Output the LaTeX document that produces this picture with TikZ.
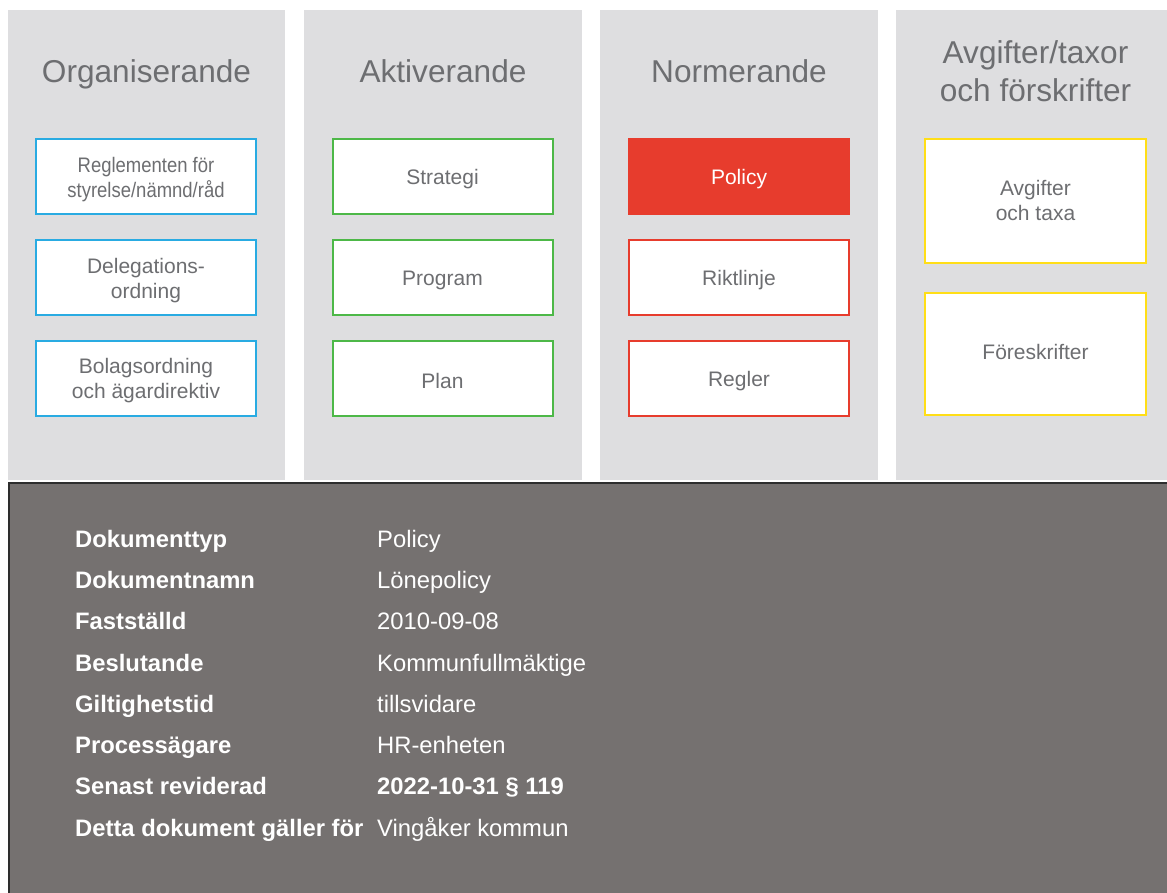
\documentclass[tikz,border=0pt]{standalone}
\usepackage{fontspec}
\setmainfont{Liberation Sans}
\newfontfamily\narrowfont[FakeStretch=0.88]{Liberation Sans}
\definecolor{colgray}{RGB}{222,222,224}
\definecolor{txtgray}{RGB}{109,110,113}
\definecolor{bcyan}{RGB}{41,171,226}
\definecolor{bgreen}{RGB}{77,184,72}
\definecolor{bred}{RGB}{231,60,45}
\definecolor{byellow}{RGB}{255,222,23}
\definecolor{darkfill}{RGB}{117,113,112}
\definecolor{darkline}{RGB}{45,45,45}
\tikzset{
  colbg/.style={fill=colgray, draw=none},
  coltitle/.style={text=txtgray, font=\fontsize{31.6}{38}\selectfont, anchor=base, inner sep=0pt},
  docbox/.style={draw=#1, line width=2pt, fill=white, inner sep=0pt, minimum width=220pt, minimum height=75pt},
  boxtext/.style={text=txtgray, align=center, font=\fontsize{21}{25}\selectfont, inner sep=0pt, yshift=-3pt},
  tabkey/.style={anchor=base west, text=white, inner sep=0pt, font=\bfseries\fontsize{23.8}{28}\selectfont},
  tabval/.style={anchor=base west, text=white, inner sep=0pt, font=\fontsize{23.8}{28}\selectfont},
}
\begin{document}
\begin{tikzpicture}[x=1pt,y=-1pt]
\useasboundingbox (0,0) rectangle (1167,893);
\fill[white] (0,0) rectangle (1167,893);
% columns
\path[colbg] (8,10) rectangle (285,480);
\path[colbg] (304,10) rectangle (582,480);
\path[colbg] (600,10) rectangle (878,480);
\path[colbg] (896,10) rectangle (1167,480);
% titles
\node[coltitle] (t1) at (146.5,83) {Organiserande};
\node[coltitle] (t2) at (443,83) {Aktiverande};
\node[coltitle] (t3) at (739,83) {Normerande};
\node[coltitle] (t4a) at (1035.5,64) {Avgifter/taxor};
\node[coltitle] (t4b) at (1035.5,102) {och förskrifter};
% column 1
\node[docbox=bcyan] (o1) at (146,176.5) {};
\node[boxtext] (o1t) at (o1.center) {\narrowfont Reglementen för\\\narrowfont styrelse/nämnd/råd};
\node[docbox=bcyan] (o2) at (146,277.5) {};
\node[boxtext] (o2t) at (o2.center) {Delegations-\\ordning};
\node[docbox=bcyan] (o3) at (146,378) {};
\node[boxtext] (o3t) at (o3.center) {Bolagsordning\\och ägardirektiv};
% column 2
\node[docbox=bgreen] (a1) at (442.5,176.5) {};
\node[boxtext] (a1t) at (a1.center) {Strategi};
\node[docbox=bgreen] (a2) at (442.5,277.5) {};
\node[boxtext] (a2t) at (a2.center) {Program};
\node[docbox=bgreen] (a3) at (442.5,378) {};
\node[boxtext] (a3t) at (a3.center) {Plan};
% column 3
\node[docbox=bred, fill=bred] (n1) at (739,176.5) {};
\node[boxtext, text=white] (n1t) at (n1.center) {Policy};
\node[docbox=bred] (n2) at (739,277.5) {};
\node[boxtext] (n2t) at (n2.center) {Riktlinje};
\node[docbox=bred] (n3) at (739,378) {};
\node[boxtext] (n3t) at (n3.center) {Regler};
% column 4
\node[docbox=byellow, minimum width=221pt, minimum height=124pt] (f1) at (1035.5,201) {};
\node[boxtext, yshift=3.5pt] (f1t) at (f1.center) {Avgifter\\och taxa};
\node[docbox=byellow, minimum width=221pt, minimum height=122pt] (f2) at (1035.5,354) {};
\node[boxtext, yshift=5pt] (f2t) at (f2.center) {Föreskrifter};
% info panel
\path[fill=darkfill, draw=darkline, line width=2pt] (9,483) rectangle (1172,900);
\node[tabkey] (k1) at (75,547.5) {Dokumenttyp};
\node[tabval] (v1) at (377,547.5) {Policy};
\node[tabkey] (k2) at (75,588.7) {Dokumentnamn};
\node[tabval] (v2) at (377,588.7) {Lönepolicy};
\node[tabkey] (k3) at (75,629.9) {Fastställd};
\node[tabval] (v3) at (377,629.9) {2010-09-08};
\node[tabkey] (k4) at (75,671.3) {Beslutande};
\node[tabval] (v4) at (377,671.3) {Kommunfullmäktige};
\node[tabkey] (k5) at (75,712.4) {Giltighetstid};
\node[tabval] (v5) at (377,712.4) {tillsvidare};
\node[tabkey] (k6) at (75,753.6) {Processägare};
\node[tabval] (v6) at (377,753.6) {HR-enheten};
\node[tabkey] (k7) at (75,794.8) {Senast reviderad};
\node[tabkey] (v7) at (377,794.8) {2022-10-31 § 119};
\node[tabkey] (k8) at (75,836) {Detta dokument gäller för};
\node[tabval] (v8) at (377,836) {Vingåker kommun};
\end{tikzpicture}
\end{document}
